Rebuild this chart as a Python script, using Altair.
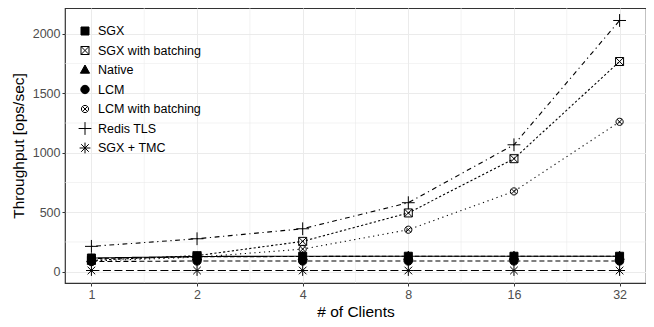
import altair as alt
import pandas as pd

clients = [1, 2, 4, 8, 16, 32]
series_names = ["SGX", "SGX with batching", "Native", "LCM", "LCM with batching", "Redis TLS", "SGX + TMC"]
sgx = [115, 128, 130, 130, 130, 130]
sgx_batch = [95, 135, 255, 494, 950, 1767]
native = [110, 125, 128, 130, 130, 130]
lcm = [85, 90, 90, 90, 90, 90]
lcm_batch = [90, 122, 190, 353, 675, 1260]
redis = [213, 277, 361, 580, 1067, 2112]
sgx_tmc = [10, 10, 10, 10, 10, 10]

x_ticks = [1, 2, 4, 8, 16, 32]
y_ticks = [0, 500, 1000, 1500, 2000]

values = [sgx, sgx_batch, native, lcm, lcm_batch, redis, sgx_tmc]
rows = []
for name, vals in zip(series_names, values):
    for c, v in zip(clients, vals):
        rows.append({"clients": c, "throughput": v, "series": name, "linetype": name})
df = pd.DataFrame(rows)
legend_df = pd.DataFrame({"series": series_names})

x_minor = [(a * b) ** 0.5 for a, b in zip(x_ticks[:-1], x_ticks[1:])]
y_minor = [(a + b) / 2 for a, b in zip(y_ticks[:-1], y_ticks[1:])]

shapes = [
    "square",
    "M-1,-1L1,-1L1,1L-1,1Z M-1,-1L1,1 M-1,1L1,-1",
    "M0,-1.25L1.15,0.8L-1.15,0.8Z",
    "M1.05,0A1.05,1.05,0,1,1,-1.05,0A1.05,1.05,0,1,1,1.05,0Z",
    "M0.9,0A0.9,0.9,0,1,1,-0.9,0A0.9,0.9,0,1,1,0.9,0Z M-0.64,-0.64L0.64,0.64 M-0.64,0.64L0.64,-0.64",
    "M-1.6,0L1.6,0 M0,-1.6L0,1.6",
    "M-1.35,0L1.35,0 M0,-1.35L0,1.35 M-0.95,-0.95L0.95,0.95 M-0.95,0.95L0.95,-0.95",
]
fills = ["black", "transparent", "black", "black", "transparent", "transparent", "transparent"]
dashes = [[1, 0], [2.2, 2.2], [4.4, 2.2], [5, 3], [1.2, 3.6], [1.2, 3.6, 4.8, 3.6], [8, 3.5]]

xscale = alt.Scale(type="log", base=2, domain=[2 ** -0.25, 2 ** 5.25], nice=False)
yscale = alt.Scale(domain=[-95, 2217], nice=False, zero=False)
shape_scale = alt.Scale(domain=series_names, range=shapes)
fill_scale = alt.Scale(domain=series_names, range=fills)

xaxis = alt.Axis(values=x_ticks, format="d", title="# of Clients", grid=True)
yaxis = alt.Axis(values=y_ticks, format="d", title="Throughput [ops/sec]", grid=True)

xminor = alt.Chart(pd.DataFrame({"v": x_minor})).mark_rule(color="#EBEBEB", strokeWidth=0.6).encode(
    x=alt.X("v:Q", scale=xscale, axis=xaxis)
)
yminor = alt.Chart(pd.DataFrame({"v": y_minor})).mark_rule(color="#EBEBEB", strokeWidth=0.6).encode(
    y=alt.Y("v:Q", scale=yscale, axis=yaxis)
)

base = alt.Chart(df)
lines = base.mark_line(color="black", strokeWidth=1.1).encode(
    x=alt.X("clients:Q", scale=xscale, axis=xaxis),
    y=alt.Y("throughput:Q", scale=yscale, axis=yaxis),
    strokeDash=alt.StrokeDash("linetype:N", scale=alt.Scale(domain=series_names, range=dashes), legend=None),
)
points = base.mark_point(stroke="black", strokeWidth=1, opacity=1, size=64).encode(
    x=alt.X("clients:Q", scale=xscale, axis=xaxis),
    y=alt.Y("throughput:Q", scale=yscale, axis=yaxis),
    shape=alt.Shape("series:N", scale=shape_scale, legend=None),
    fill=alt.Fill("series:N", scale=fill_scale, legend=None),
)

main = alt.layer(xminor, yminor, lines, points)

leg_y = alt.Y("series:N", scale=alt.Scale(domain=series_names, range=[23, 140], padding=0), axis=None)
leg_pts = alt.Chart(legend_df).mark_point(stroke="black", strokeWidth=1, opacity=1, size=64).encode(
    x=alt.value(20),
    y=leg_y,
    shape=alt.Shape("series:N", scale=shape_scale, legend=None),
    fill=alt.Fill("series:N", scale=fill_scale, legend=None),
)
leg_txt = alt.Chart(legend_df).mark_text(
    align="left", baseline="middle", fontSize=12.5, font="Liberation Sans", color="black"
).encode(
    x=alt.value(33),
    y=leg_y,
    text="series:N",
)
leg = alt.layer(leg_pts, leg_txt)

chart = alt.layer(main, leg).resolve_scale(y="independent").properties(
    width=581, height=275,
    autosize=alt.AutoSizeParams(type="none"),
    padding={"left": 57, "top": 0, "right": 0, "bottom": 36},
).configure_view(
    stroke="#333333", strokeWidth=1.2
).configure_axis(
    domain=False,
    gridColor="#EBEBEB", gridWidth=1,
    tickColor="#333333", tickSize=3,
    labelFont="Liberation Sans", labelFontSize=12.5, labelColor="#4D4D4D", labelPadding=2,
    titleFont="Liberation Sans", titleFontSize=15.5, titleFontWeight="normal", titleColor="black",
).configure_axisX(
    titlePadding=4
).configure_axisY(
    titlePadding=6
)

chart.save("out.html", embed_options={"renderer": "svg", "actions": False})
